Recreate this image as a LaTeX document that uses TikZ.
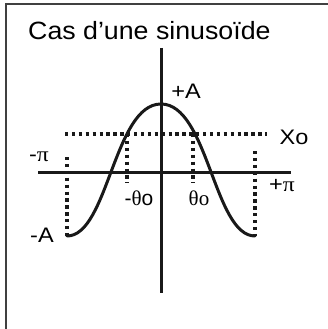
\documentclass[tikz,border=0pt]{standalone}
\usepackage{fontspec}
\setmainfont{Liberation Sans}
\newfontfamily\grk{Liberation Serif}
\usepackage{graphicx}
\begin{document}
\begin{tikzpicture}[x=1pt,y=-1pt,
  axisline/.style={line width=3pt,black!90},
  curveline/.style={line width=3pt,black!90,line cap=round},
  dotline/.style={line width=3.3pt,black!90,dash pattern=on 3.3pt off 3.6pt},
  framel/.style={line width=1.8pt,black!75},
  lab/.style={inner sep=0pt,font=\fontsize{21}{21}\selectfont},
  ttl/.style={inner sep=0pt,anchor=base west,font=\fontsize{25}{25}\selectfont}]
\useasboundingbox (0,0) rectangle (328,329);
% frame (only top and left visible)
\coordinate (fTL) at (6,4);
\coordinate (fTR) at (328,4);
\coordinate (fBL) at (6,329);
\draw[framel] (fTR) -- (fTL) -- (fBL);
% title
\node[ttl] (title) at (28,40) {\scalebox{1.07}[1]{Cas d’une sinusoïde}};
% axes
\coordinate (xL) at (38,172);
\coordinate (xR) at (291,172);
\coordinate (yT) at (161,48);
\coordinate (yB) at (161,293);
\draw[axisline] (xL) -- (xR);
\draw[axisline] (yT) -- (yB);
% curve points
\coordinate (mL) at (67,236);
\coordinate (pk) at (161,104);
\coordinate (mR) at (255,236);
% dotted lines
\coordinate (xoL) at (65,134);
\coordinate (xoR) at (267,134);
\draw[dotline] (xoL) -- (xoR);
\coordinate (tL1) at (127,134); \coordinate (tL2) at (127,183);
\coordinate (tR1) at (193,134); \coordinate (tR2) at (193,183);
\draw[dotline] (tL1) -- (tL2);
\draw[dotline] (tR1) -- (tR2);
\coordinate (pL1) at (67,157);
\coordinate (pR1) at (255,151);
\draw[dotline] (pL1) -- (mL);
\draw[dotline] (pR1) -- (mR);
% curve
\draw[curveline] (mL) .. controls (108,236) and (114,104) .. (pk)
                      .. controls (208,104) and (214,236) .. (mR);
% labels
\node[lab] (lpA) at (186,91) {\scalebox{1.12}[1]{+A}};
\node[lab] (lmA) at (42,235) {\scalebox{1.12}[1]{-A}};
\node[lab] (lXo) at (294,137) {\scalebox{1.12}[1]{Xo}};
\node[lab] (lmpi) at (39,157) {\scalebox{1.12}[1]{-{\grk π}}};
\node[lab] (lppi) at (282,186) {\scalebox{1.12}[1]{+{\grk π}}};
\node[lab] (lmth) at (139,198) {-{\grk θ}o};
\node[lab] (lth) at (199,198) {{\grk θo}};
\end{tikzpicture}
\end{document}
